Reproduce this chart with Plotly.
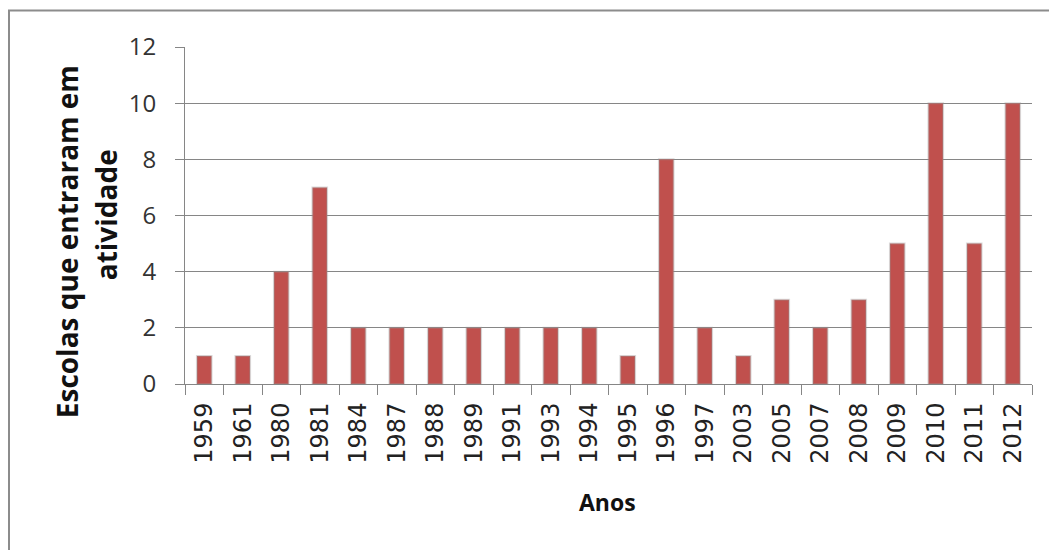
import plotly.graph_objects as go

anos = ["1959", "1961", "1980", "1981", "1984", "1987", "1988", "1989", "1991", "1993", "1994",
        "1995", "1996", "1997", "2003", "2005", "2007", "2008", "2009", "2010", "2011", "2012"]
escolas = [1, 1, 4, 7, 2, 2, 2, 2, 2, 2, 2, 1, 8, 2, 1, 3, 2, 3, 5, 10, 5, 10]
y_ticks = [0, 2, 4, 6, 8, 10, 12]

W, H = 1049, 550
L, R, T, B = 185, 17, 46.5, 166
pw, ph = W - L - R, H - T - B

def px_x(x):
    return (x - L) / pw

def px_y(y):
    return (H - B - y) / ph

fig = go.Figure()
fig.add_trace(go.Bar(
    x=anos, y=escolas,
    marker=dict(color="#C0504D", line=dict(color="rgba(150,150,150,0.35)", width=2)),
    width=0.38,
))

fig.update_layout(
    width=W, height=H,
    margin=dict(l=L, r=R, t=T, b=B),
    paper_bgcolor="white", plot_bgcolor="white",
    showlegend=False,
    xaxis=dict(
        type="category", tickangle=-90,
        tickfont=dict(family="DejaVu Sans", size=24, color="#222"),
        ticks="outside", ticklen=10, tickcolor="#868686", tickson="boundaries",
        showline=True, linecolor="#868686", linewidth=1,
        showgrid=False, ticklabelstandoff=8,
    ),
    yaxis=dict(
        range=[0, 12], tickvals=y_ticks,
        tickfont=dict(family="Open Sans", size=24, color="#333"),
        ticks="outside", ticklen=9, tickcolor="#868686",
        showline=True, linecolor="#868686", linewidth=1,
        showgrid=True, gridcolor="#868686", gridwidth=1,
        zeroline=False, ticklabelstandoff=14,
    ),
    shapes=[dict(type="rect", xref="paper", yref="paper",
                 x0=px_x(9), y0=px_y(600), x1=px_x(1100), y1=px_y(10),
                 line=dict(color="#8c8c8c", width=2), layer="below")],
    annotations=[
        dict(text="<b>Escolas que entraram em</b>", xref="paper", yref="paper",
             x=px_x(67), y=px_y(242), xanchor="center", yanchor="middle",
             textangle=-90, showarrow=False,
             font=dict(family="Open Sans", size=28, color="#111")),
        dict(text="<b>atividade</b>", xref="paper", yref="paper",
             x=px_x(106), y=px_y(215), xanchor="center", yanchor="middle",
             textangle=-90, showarrow=False,
             font=dict(family="Open Sans", size=28, color="#111")),
        dict(text="<b>Anos</b>", xref="paper", yref="paper",
             x=px_x(607), y=px_y(502), xanchor="center", yanchor="middle",
             showarrow=False,
             font=dict(family="Open Sans", size=23, color="#111")),
    ],
)

fig.write_html("out.html")
